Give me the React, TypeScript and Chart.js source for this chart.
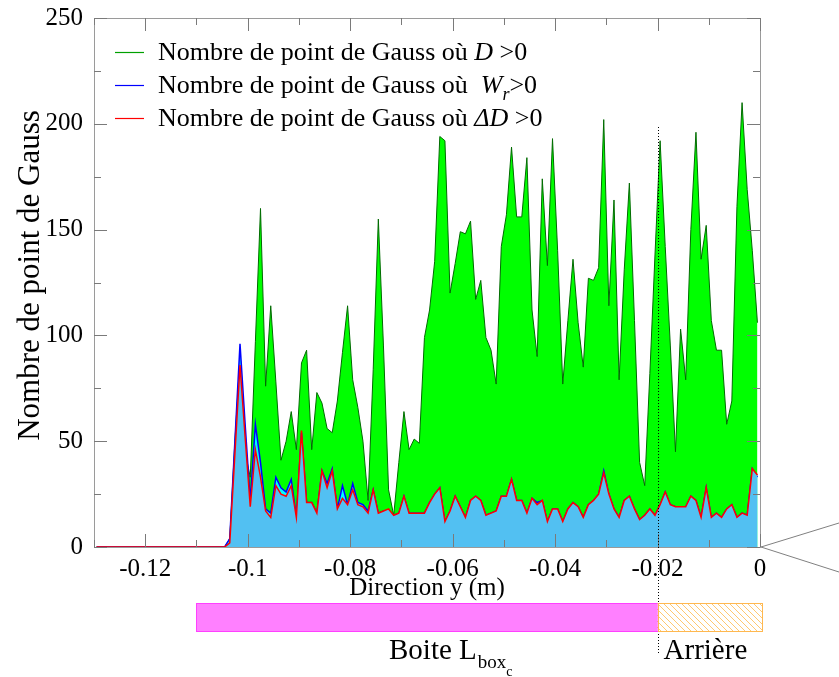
import React, { useEffect, useRef } from 'react';
import { Chart, registerables } from 'chart.js';

Chart.register(...registerables);

const SERIF = "'Liberation Serif', 'Times New Roman', serif";

// Position along y (m), centre of each element
const positionY = [
  -0.1295, -0.1285, -0.1275, -0.1265, -0.1255, -0.1245, -0.1235, -0.1225, -0.1215, -0.1205,
  -0.1195, -0.1185, -0.1175, -0.1165, -0.1155, -0.1145, -0.1135, -0.1125, -0.1115, -0.1105,
  -0.1095, -0.1085, -0.1075, -0.1065, -0.1055, -0.1045, -0.1035, -0.1025, -0.1015, -0.1005,
  -0.0995, -0.0985, -0.0975, -0.0965, -0.0955, -0.0945, -0.0935, -0.0925, -0.0915, -0.0905,
  -0.0895, -0.0885, -0.0875, -0.0865, -0.0855, -0.0845, -0.0835, -0.0825, -0.0815, -0.0805,
  -0.0795, -0.0785, -0.0775, -0.0765, -0.0755, -0.0745, -0.0735, -0.0725, -0.0715, -0.0705,
  -0.0695, -0.0685, -0.0675, -0.0665, -0.0655, -0.0645, -0.0635, -0.0625, -0.0615, -0.0605,
  -0.0595, -0.0585, -0.0575, -0.0565, -0.0555, -0.0545, -0.0535, -0.0525, -0.0515, -0.0505,
  -0.0495, -0.0485, -0.0475, -0.0465, -0.0455, -0.0445, -0.0435, -0.0425, -0.0415, -0.0405,
  -0.0395, -0.0385, -0.0375, -0.0365, -0.0355, -0.0345, -0.0335, -0.0325, -0.0315, -0.0305,
  -0.0295, -0.0285, -0.0275, -0.0265, -0.0255, -0.0245, -0.0235, -0.0225, -0.0215, -0.0205,
  -0.0195, -0.0185, -0.0175, -0.0165, -0.0155, -0.0145, -0.0135, -0.0125, -0.0115, -0.0105,
  -0.0095, -0.0085, -0.0075, -0.0065, -0.0055, -0.0045, -0.0035, -0.0025, -0.0015, -0.0005,
];

// Nombre de point de Gauss où D > 0
const gaussD = [
  0, 0, 0, 0, 0, 0, 0, 0, 0, 0,
  0, 0, 0, 0, 0, 0, 0, 0, 0, 0,
  0, 0, 0, 0, 0, 0, 4, 50, 90, 45,
  33, 97, 160, 76, 114, 78, 41, 50, 64, 46,
  87, 93, 46, 73, 68, 56, 54, 69, 92, 114,
  79, 66, 50, 22, 84, 155, 95, 27, 15, 40,
  64, 46, 51, 49, 99, 112, 135, 194, 192, 120,
  134, 149, 148, 154, 117, 126, 99, 93, 77, 142,
  157, 189, 156, 156, 184, 112, 90, 174, 133, 193,
  140, 77, 107, 136, 106, 85, 127, 126, 132, 202,
  114, 164, 79, 131, 172, 107, 40, 29, 82, 138,
  192, 142, 95, 45, 103, 79, 150, 196, 136, 152,
  107, 93, 93, 58, 69, 161, 210, 169, 140, 106,
];

// Nombre de point de Gauss où W_r > 0
const gaussWr = [
  0, 0, 0, 0, 0, 0, 0, 0, 0, 0,
  0, 0, 0, 0, 0, 0, 0, 0, 0, 0,
  0, 0, 0, 0, 0, 0, 4, 50, 96, 58,
  22, 58, 40, 18, 16, 33, 28, 26, 32, 14,
  54, 21, 21, 16, 36, 30, 37, 18, 29, 20,
  30, 21, 20, 17, 27, 16, 17, 17, 15, 16,
  24, 16, 16, 16, 16, 21, 25, 28, 12, 17,
  24, 19, 14, 22, 24, 22, 15, 16, 17, 24,
  24, 32, 22, 22, 16, 23, 21, 22, 12, 18,
  18, 12, 18, 21, 19, 14, 20, 22, 25, 36,
  25, 18, 14, 22, 24, 18, 13, 15, 18, 15,
  20, 26, 20, 19, 19, 19, 24, 22, 14, 28,
  14, 16, 14, 18, 20, 14, 16, 15, 37, 33,
];

// Nombre de point de Gauss où ΔD > 0
const gaussDeltaD = [
  0, 0, 0, 0, 0, 0, 0, 0, 0, 0,
  0, 0, 0, 0, 0, 0, 0, 0, 0, 0,
  0, 0, 0, 0, 0, 0, 2, 44, 86, 52,
  19, 46, 33, 17, 14, 29, 25, 24, 29, 14,
  55, 21, 21, 16, 36, 28, 36, 18, 23, 20,
  27, 20, 19, 16, 27, 16, 17, 18, 15, 16,
  24, 16, 16, 16, 16, 21, 25, 28, 12, 17,
  24, 19, 14, 22, 24, 22, 15, 16, 17, 24,
  24, 32, 22, 22, 16, 23, 20, 22, 12, 18,
  18, 12, 18, 21, 19, 14, 20, 22, 25, 35,
  25, 18, 14, 22, 24, 18, 13, 15, 18, 15,
  20, 26, 20, 19, 19, 19, 24, 22, 14, 28,
  14, 16, 14, 18, 20, 14, 16, 15, 37, 34,
];

const xTicks = [-0.13, -0.12, -0.11, -0.1, -0.09, -0.08, -0.07, -0.06, -0.05, -0.04, -0.03, -0.02, -0.01, 0];
const xMajorTicks = [-0.12, -0.1, -0.08, -0.06, -0.04, -0.02, 0];
const yTicks = [0, 25, 50, 75, 100, 125, 150, 175, 200, 225, 250];
const yMajorTicks = [0, 50, 100, 150, 200, 250];

// Zones under the axis
const boxStart = -0.11;
const boxEnd = -0.02;
const rearEnd = 0;

const yTitle = 'Nombre de point de Gauss';

const legendRows = [
  { color: '#00a000', parts: [{ t: 'Nombre de point de Gauss où ' }, { t: 'D', i: true }, { t: ' >0' }] },
  { color: '#0000ff', parts: [{ t: 'Nombre de point de Gauss où  ' }, { t: 'W', i: true }, { t: 'r', i: true, sub: true }, { t: '>0' }] },
  { color: '#ff0000', parts: [{ t: 'Nombre de point de Gauss où ' }, { t: 'ΔD', i: true }, { t: ' >0' }] },
];

const AXIS_GREY = '#9a9a9a';

function makeHatch(): CanvasPattern | string {
  const c = document.createElement('canvas');
  c.width = 6; c.height = 6;
  const g = c.getContext('2d');
  if (!g) return '#ffe8c0';
  g.fillStyle = '#ffffff';
  g.fillRect(0, 0, 6, 6);
  g.strokeStyle = '#ffc870';
  g.lineWidth = 1;
  g.beginPath();
  for (let k = -6; k <= 12; k += 6) {
    g.moveTo(k, 0);
    g.lineTo(k + 6, 6);
  }
  g.stroke();
  return g.createPattern(c, 'repeat') || '#ffe8c0';
}

export default function App() {
  const ref = useRef<HTMLCanvasElement>(null);

  useEffect(() => {
    const canvas = ref.current;
    if (!canvas) return;
    const hatch = makeHatch();

    const framePlugin = {
      id: 'frame',
      beforeDatasetsDraw(chart: any) {
        const { ctx, chartArea: a } = chart;
        ctx.save();
        ctx.strokeStyle = AXIS_GREY;
        ctx.lineWidth = 1;
        ctx.strokeRect(Math.round(a.left) + 0.5, Math.round(a.top) + 0.5, Math.round(a.right - a.left), Math.round(a.bottom - a.top));
        ctx.restore();
      },
      afterDatasetsDraw(chart: any) {
        const { ctx, chartArea: a, scales } = chart;
        ctx.save();
        ctx.strokeStyle = '#7a7a7a';
        ctx.lineWidth = 1;
        ctx.beginPath();
        xTicks.forEach((v) => {
          const px = Math.round(scales.x.getPixelForValue(v)) + 0.5;
          const len = xMajorTicks.includes(v) ? 13 : 7;
          ctx.moveTo(px, a.bottom);
          ctx.lineTo(px, a.bottom - len);
          ctx.moveTo(px, a.top);
          ctx.lineTo(px, a.top + len);
        });
        yTicks.forEach((v) => {
          const py = Math.round(scales.y.getPixelForValue(v)) + 0.5;
          const len = yMajorTicks.includes(v) ? 13 : 7;
          ctx.moveTo(a.left, py);
          ctx.lineTo(a.left + len, py);
          ctx.moveTo(a.right, py);
          ctx.lineTo(a.right - len, py);
        });
        ctx.stroke();
        ctx.restore();
      },
      afterDraw(chart: any) {
        const { ctx, chartArea: a, scales } = chart;
        ctx.save();

        // y axis title
        ctx.save();
        ctx.translate(31, (a.top + a.bottom) / 2 - 7);
        ctx.rotate(-Math.PI / 2);
        ctx.fillStyle = '#000';
        ctx.font = `31px ${SERIF}`;
        ctx.textAlign = 'center';
        ctx.textBaseline = 'middle';
        ctx.fillText(yTitle, 0, 0);
        ctx.restore();

        // legend
        const size = 26;
        legendRows.forEach((row, r) => {
          const base = 60 + r * 33;
          ctx.strokeStyle = row.color;
          ctx.lineWidth = 1.2;
          ctx.beginPath();
          ctx.moveTo(115, base - 7.5);
          ctx.lineTo(144, base - 7.5);
          ctx.stroke();
          let x = 158;
          ctx.fillStyle = '#000';
          ctx.textBaseline = 'alphabetic';
          ctx.textAlign = 'left';
          row.parts.forEach((p: any) => {
            const fs = p.sub ? 18 : size;
            ctx.font = `${p.i ? 'italic ' : ''}${fs}px ${SERIF}`;
            ctx.fillText(p.t, x, p.sub ? base + 7 : base);
            x += ctx.measureText(p.t).width;
          });
        });

        // dotted separation
        const xSep = Math.round(scales.x.getPixelForValue(boxEnd)) + 0.5;
        ctx.strokeStyle = '#000';
        ctx.lineWidth = 1;
        ctx.setLineDash([1, 2]);
        ctx.beginPath();
        ctx.moveTo(xSep, a.top + 109);
        ctx.lineTo(xSep, a.bottom + 108);
        ctx.stroke();
        ctx.setLineDash([]);

        // zone bars
        const x0 = scales.x.getPixelForValue(boxStart);
        const x1 = scales.x.getPixelForValue(boxEnd);
        const x2 = scales.x.getPixelForValue(rearEnd) + 2;
        const yb = a.bottom + 56;
        const hb = 28;
        ctx.fillStyle = '#ff80ff';
        ctx.fillRect(x0, yb, x1 - x0, hb);
        ctx.strokeStyle = '#ff40ff';
        ctx.strokeRect(Math.round(x0) + 0.5, yb + 0.5, Math.round(x1 - x0), hb);
        ctx.fillStyle = hatch;
        ctx.fillRect(x1, yb, x2 - x1, hb);
        ctx.strokeStyle = '#ffb850';
        ctx.strokeRect(Math.round(x1) + 0.5, yb + 0.5, Math.round(x2 - x1), hb);

        // zone labels
        ctx.fillStyle = '#000';
        ctx.textAlign = 'left';
        ctx.textBaseline = 'alphabetic';
        ctx.font = `29px ${SERIF}`;
        const tb = a.bottom + 112;
        ctx.fillText('Boite L', 389, tb);
        let xx = 389 + ctx.measureText('Boite L').width + 1;
        ctx.font = `19px ${SERIF}`;
        ctx.fillText('box', xx, tb + 9);
        xx += ctx.measureText('box').width;
        ctx.font = `14px ${SERIF}`;
        ctx.fillText('c', xx, tb + 17);
        ctx.font = `29px ${SERIF}`;
        ctx.fillText('Arrière', x1 + 6, tb);

        // zoom lines at the right
        ctx.strokeStyle = '#808080';
        ctx.beginPath();
        ctx.moveTo(a.right + 1, a.bottom);
        ctx.lineTo(839, a.bottom - 24);
        ctx.moveTo(a.right + 1, a.bottom);
        ctx.lineTo(839, a.bottom + 25);
        ctx.stroke();
        ctx.restore();
      },
    };

    const toPoints = (vals: number[]) => positionY.map((x, i) => ({ x, y: vals[i] }));

    const chart = new Chart(canvas, {
      type: 'line',
      data: {
        datasets: [
          {
            label: 'ΔD>0',
            data: toPoints(gaussDeltaD),
            borderColor: '#ff0000',
            borderWidth: 1.5,
            backgroundColor: '#52c0f2',
            fill: 'origin',
            pointRadius: 0,
            tension: 0,
          },
          {
            label: 'Wr>0',
            data: toPoints(gaussWr),
            borderColor: '#0000ff',
            borderWidth: 1.5,
            backgroundColor: '#00ffff',
            fill: 'origin',
            pointRadius: 0,
            tension: 0,
          },
          {
            label: 'D>0',
            data: toPoints(gaussD),
            borderColor: '#006a00',
            borderWidth: 1,
            backgroundColor: '#00ff00',
            fill: 'origin',
            pointRadius: 0,
            tension: 0,
          },
        ],
      },
      options: {
        responsive: false,
        animation: false,
        devicePixelRatio: 1,
        layout: { padding: { left: 0, top: 18, right: 79, bottom: 74 } },
        plugins: { legend: { display: false }, tooltip: { enabled: false } },
        scales: {
          x: {
            type: 'linear',
            min: -0.13,
            max: 0,
            grid: { display: false, drawTicks: false },
            border: { display: false },
            afterBuildTicks: (s: any) => {
              s.ticks = xTicks.map((v) => ({ value: v }));
            },
            afterFit: (s: any) => {
              s.height = 56;
              s.paddingLeft = 0;
              s.paddingRight = 0;
            },
            ticks: {
              autoSkip: false,
              maxRotation: 0,
              padding: 7,
              color: '#000',
              font: { family: SERIF, size: 25 },
              callback: (v: any) => (xMajorTicks.includes(v) ? (v === 0 ? '0' : String(v)) : ''),
            },
            title: {
              display: true,
              text: 'Direction y (m)',
              color: '#000',
              font: { family: SERIF, size: 25 },
              padding: 0,
            },
          },
          y: {
            min: 0,
            max: 250,
            grid: { display: false, drawTicks: false },
            border: { display: false },
            afterBuildTicks: (s: any) => {
              s.ticks = yMajorTicks.map((v) => ({ value: v }));
            },
            afterFit: (s: any) => {
              s.width = 94;
              s.paddingTop = 0;
              s.paddingBottom = 0;
            },
            ticks: {
              padding: 11,
              color: '#000',
              font: { family: SERIF, size: 25 },
            },
            title: { display: false },
          },
        },
      },
      plugins: [framePlugin],
    } as any);

    return () => chart.destroy();
  }, []);

  return (
    <div style={{ position: 'absolute', left: 0, top: 0, width: 839, height: 677, background: '#fff' }}>
      <canvas ref={ref} width={839} height={677} style={{ display: 'block' }} />
    </div>
  );
}
